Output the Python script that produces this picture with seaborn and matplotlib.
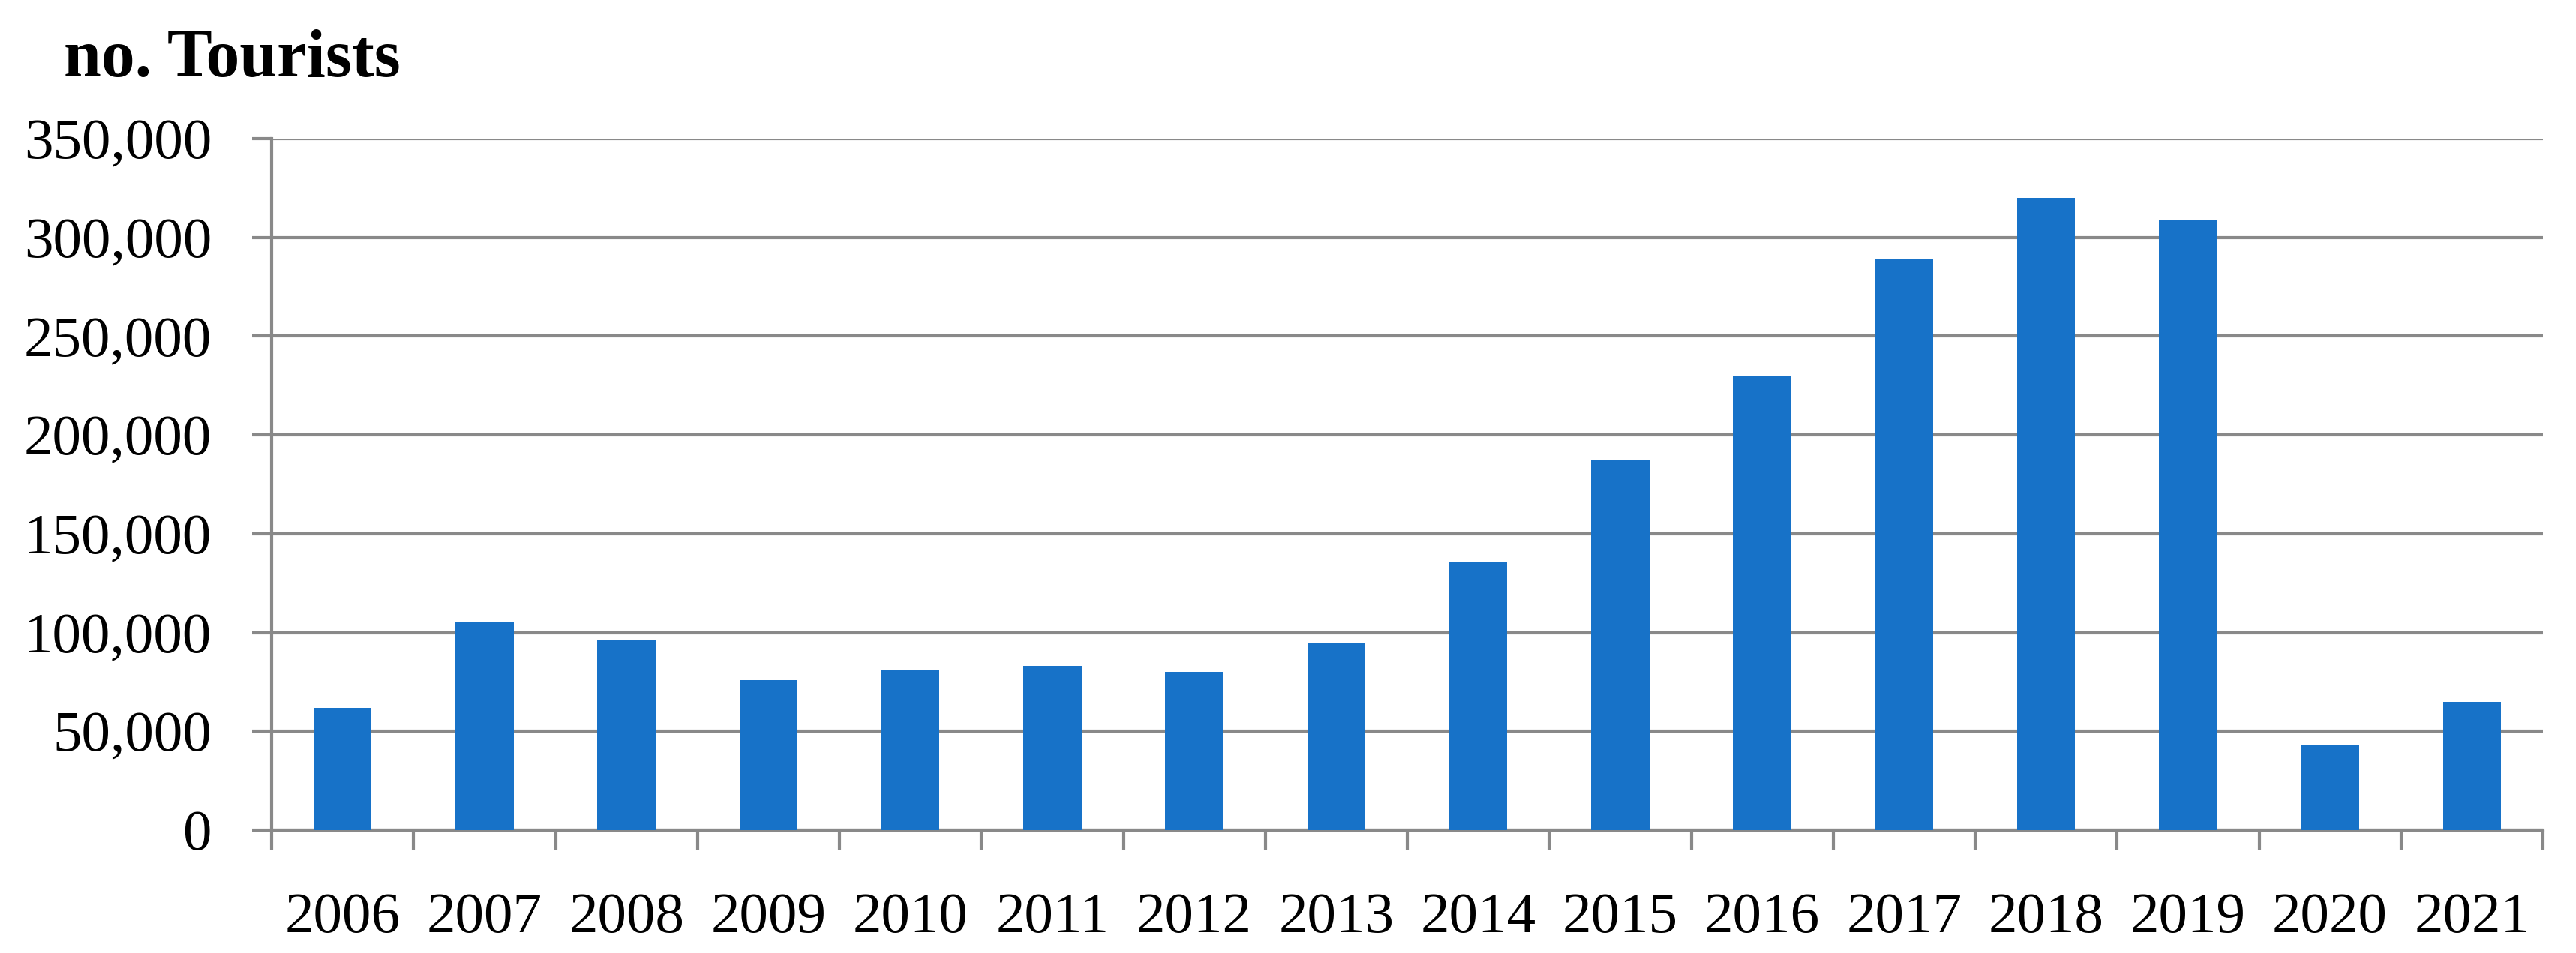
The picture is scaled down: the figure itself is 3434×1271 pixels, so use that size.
import matplotlib
matplotlib.use("Agg")
import matplotlib.pyplot as plt
import matplotlib.ticker as mticker
import pandas as pd
import seaborn as sns

years = ["2006", "2007", "2008", "2009", "2010", "2011", "2012", "2013",
         "2014", "2015", "2016", "2017", "2018", "2019", "2020", "2021"]
tourists = [62000, 105000, 96000, 76000, 81000, 83000, 80000, 95000,
            136000, 187000, 230000, 289000, 320000, 309000, 43000, 65000]
y_ticks = [0, 50000, 100000, 150000, 200000, 250000, 300000, 350000]

df = pd.DataFrame({"year": years, "tourists": tourists})

sns.set_style("white")
plt.rcParams["font.family"] = ["Liberation Serif", "DejaVu Serif"]
plt.rcParams["text.color"] = "black"

grey = "#898989"
lw = 1.0
fig = plt.figure(figsize=(3434 / 300, 1271 / 300), dpi=300)
ax = fig.add_axes([362 / 3434, 1 - 1107 / 1271, (3390 - 362) / 3434, (1107 - 185) / 1271])

sns.barplot(data=df, x="year", y="tourists", color="#1772C8", saturation=1,
            width=0.41, linewidth=0, ax=ax, zorder=3)

ax.set_ylim(0, 350000)
ax.set_xlim(-0.5, len(years) - 0.5)
ax.set_yticks(y_ticks)
ax.yaxis.set_major_formatter(mticker.StrMethodFormatter("{x:,.0f}"))

# horizontal grid only
ax.grid(axis="y", color=grey, linewidth=lw, zorder=0)
ax.grid(axis="x", visible=False)
ax.set_axisbelow(True)

for side in ["top", "right"]:
    ax.spines[side].set_visible(False)
for side in ["left", "bottom"]:
    ax.spines[side].set_color(grey)
    ax.spines[side].set_linewidth(lw)

# x ticks sit between categories, labels centred on bars
ax.set_xticks([i - 0.5 for i in range(len(years) + 1)], minor=True)
ax.tick_params(axis="x", which="major", length=0, pad=20, labelsize=18.5,
               labelcolor="black", bottom=True)
ax.tick_params(axis="x", which="minor", length=6.2, width=lw, color=grey,
               direction="out", bottom=True)
ax.tick_params(axis="y", which="major", length=6.2, width=lw, color=grey,
               direction="out", pad=13, labelsize=18.5, labelcolor="black", left=True)

ax.set_xlabel("")
ax.set_ylabel("")

fig.text(85 / 3434, 1 - 102 / 1271, "no. Tourists", fontsize=21.5, fontweight="bold",
         color="black", ha="left", va="baseline")

fig.savefig("out.png", dpi=300)
